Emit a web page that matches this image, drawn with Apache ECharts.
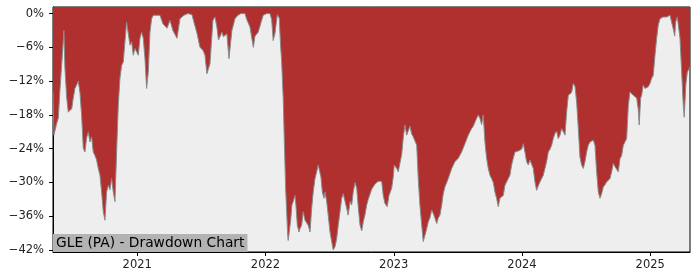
<!DOCTYPE html>
<html>
<head>
<meta charset="utf-8">
<script src="https://cdn.jsdelivr.net/npm/echarts@6/dist/echarts.min.js"></script>
<style>html,body{margin:0;padding:0;background:#fff;}#c{width:700px;height:280px;}</style>
</head>
<body>
<div id="c"></div>
<script>
const chartTitle = 'GLE (PA) - Drawdown Chart';
const yearTicks = [2021, 2022, 2023, 2024, 2025];
const pctTicks = [0, -6, -12, -18, -24, -30, -36, -42];
const years = [
2020.343,2020.350,2020.358,2020.372,2020.384,2020.397,2020.411,2020.423,2020.428,2020.436,
2020.450,2020.462,2020.475,2020.489,2020.501,2020.514,2020.527,2020.540,2020.553,2020.566,
2020.579,2020.592,2020.605,2020.618,2020.631,2020.644,2020.657,2020.670,2020.683,2020.696,
2020.709,2020.722,2020.735,2020.748,2020.761,2020.774,2020.787,2020.800,2020.813,2020.826,
2020.839,2020.852,2020.865,2020.878,2020.891,2020.904,2020.917,2020.930,2020.943,2020.956,
2020.969,2020.982,2020.995,2021.008,2021.021,2021.034,2021.047,2021.060,2021.073,2021.086,
2021.099,2021.112,2021.125,2021.138,2021.154,2021.177,2021.200,2021.232,2021.255,2021.278,
2021.310,2021.333,2021.364,2021.395,2021.427,2021.438,2021.466,2021.489,2021.512,2021.528,
2021.543,2021.567,2021.590,2021.606,2021.621,2021.633,2021.660,2021.672,2021.699,2021.715,
2021.738,2021.762,2021.785,2021.809,2021.840,2021.853,2021.879,2021.905,2021.918,2021.943,
2021.970,2021.982,2022.009,2022.035,2022.048,2022.060,2022.074,2022.092,2022.107,2022.118,
2022.126,2022.138,2022.146,2022.157,2022.165,2022.173,2022.177,2022.185,2022.196,2022.206,
2022.216,2022.230,2022.237,2022.248,2022.261,2022.269,2022.282,2022.294,2022.308,2022.321,
2022.333,2022.347,2022.360,2022.372,2022.386,2022.399,2022.411,2022.425,2022.432,2022.443,
2022.456,2022.464,2022.477,2022.489,2022.503,2022.516,2022.528,2022.542,2022.555,2022.567,
2022.581,2022.594,2022.606,2022.620,2022.633,2022.645,2022.659,2022.672,2022.684,2022.698,
2022.711,2022.723,2022.737,2022.750,2022.762,2022.775,2022.789,2022.801,2022.828,2022.853,
2022.879,2022.906,2022.918,2022.931,2022.949,2022.963,2022.984,2022.996,2023.004,2023.023,
2023.035,2023.048,2023.062,2023.074,2023.087,2023.101,2023.113,2023.126,2023.140,2023.152,
2023.165,2023.179,2023.191,2023.204,2023.218,2023.230,2023.243,2023.257,2023.269,2023.282,
2023.296,2023.308,2023.321,2023.335,2023.347,2023.360,2023.374,2023.386,2023.399,2023.425,
2023.452,2023.464,2023.477,2023.503,2023.529,2023.555,2023.581,2023.607,2023.620,2023.646,
2023.659,2023.672,2023.685,2023.698,2023.711,2023.724,2023.737,2023.750,2023.763,2023.776,
2023.789,2023.802,2023.815,2023.828,2023.841,2023.854,2023.867,2023.880,2023.893,2023.906,
2023.919,2023.932,2023.945,2023.971,2023.997,2024.010,2024.023,2024.036,2024.049,2024.062,
2024.075,2024.088,2024.101,2024.114,2024.127,2024.140,2024.153,2024.166,2024.179,2024.192,
2024.205,2024.218,2024.231,2024.244,2024.257,2024.270,2024.283,2024.296,2024.309,2024.322,
2024.335,2024.348,2024.361,2024.374,2024.387,2024.400,2024.413,2024.426,2024.439,2024.452,
2024.465,2024.478,2024.491,2024.504,2024.517,2024.530,2024.556,2024.569,2024.582,2024.595,
2024.608,2024.621,2024.634,2024.647,2024.660,2024.673,2024.686,2024.699,2024.712,2024.725,
2024.738,2024.751,2024.764,2024.777,2024.790,2024.803,2024.816,2024.829,2024.842,2024.855,
2024.867,2024.881,2024.894,2024.906,2024.914,2024.925,2024.933,2024.945,2024.959,2024.972,
2024.984,2024.998,2025.011,2025.023,2025.037,2025.050,2025.062,2025.076,2025.101,2025.128,
2025.154,2025.167,2025.179,2025.191,2025.198,2025.211,2025.224,2025.232,2025.245,2025.257,
2025.265,2025.278,2025.289,2025.310
];
const drawdown = [
-13.8,-21.6,-21.3,-19.5,-18.6,-13.6,-13.8,-5.0,-3.0,-9.7,
-15.0,-17.5,-17.7,-16.9,-15.0,-13.3,-12.7,-12.0,-14.0,-18.0,
-23.9,-24.6,-22.1,-21.0,-22.8,-21.9,-24.6,-25.2,-26.0,-27.5,
-28.7,-31.7,-35.2,-36.7,-31.7,-30.5,-31.3,-29.3,-31.7,-33.4,
-24.6,-16.3,-11.5,-9.2,-8.6,-5.0,-1.5,-1.2,-5.6,-5.0,
-7.4,-6.2,-6.8,-7.4,-4.4,-3.3,-4.4,-8.0,-13.3,-10.4,
-3.3,-0.9,-0.3,0,-0.3,-0.3,-1.8,-2.6,-1.2,-3.0,
-4.4,-0.9,-0.3,0,-0.2,-1.2,-3.5,-6.0,-6.5,-7.4,
-10.7,-8.9,-1.2,-0.6,-2.4,-4.7,-3.3,-4.1,-3.6,-8.0,
-3.0,-0.9,-0.3,0,0,-1.0,-2.4,-6.0,-4.0,-3.3,
-1.2,-0.3,0,0,-1.1,-4.8,-3.5,-0.2,-0.8,-5.8,
-8.6,-15.0,-22.0,-31.0,-35.2,-39.4,-40.3,-38.8,-36.8,-34.0,
-33.4,-32.3,-34.0,-37.6,-38.8,-38.2,-37.6,-35.2,-36.7,-36.5,
-37.6,-38.8,-34.6,-31.7,-29.3,-28.1,-26.9,-26.6,-29.0,-31.7,
-32.8,-31.7,-33.4,-35.8,-38.8,-40.5,-42.0,-41.4,-40.0,-37.6,
-35.2,-32.8,-32.0,-32.3,-34.6,-35.8,-33.4,-34.0,-31.7,-30.0,
-31.0,-34.3,-37.6,-38.6,-37.0,-35.8,-34.0,-33.0,-31.2,-30.3,
-29.8,-29.8,-32.3,-33.7,-34.3,-32.3,-31.0,-29.0,-26.9,-27.5,
-28.1,-27.8,-25.0,-22.1,-19.8,-21.6,-21.4,-20.0,-21.4,-21.9,
-21.6,-23.4,-29.3,-34.0,-37.6,-40.5,-39.4,-38.2,-37.0,-36.3,
-34.9,-35.5,-36.3,-37.3,-36.3,-35.8,-34.0,-32.0,-30.8,-29.3,
-27.5,-27.5,-26.3,-25.7,-24.6,-23.1,-21.6,-20.4,-20.0,-18.6,
-18.0,-18.6,-19.7,-18.0,-22.8,-25.7,-27.5,-28.7,-29.3,-30.0,
-31.7,-32.8,-34.3,-32.8,-32.5,-32.3,-30.5,-29.9,-29.3,-28.7,
-26.9,-25.7,-24.6,-24.4,-24.1,-23.1,-24.6,-26.3,-26.9,-26.0,
-25.9,-27.5,-29.9,-31.4,-30.6,-29.9,-29.6,-28.7,-27.5,-26.3,
-24.6,-24.1,-23.4,-22.2,-21.3,-20.9,-22.2,-21.6,-20.4,-20.2,
-21.6,-17.5,-14.5,-14.2,-14.0,-12.4,-12.9,-15.7,-20.4,-25.5,
-26.9,-27.5,-26.3,-24.6,-23.4,-22.8,-22.5,-23.4,-28.1,-31.7,
-32.8,-32.0,-30.8,-30.4,-29.9,-29.6,-29.3,-28.1,-26.6,-27.2,
-26.9,-28.1,-25.8,-25.2,-23.4,-22.8,-22.2,-16.3,-13.9,-14.2,
-14.5,-14.5,-15.0,-16.9,-19.8,-15.0,-14.5,-12.7,-13.3,-13.0,
-13.0,-12.4,-11.5,-11.0,-7.4,-4.4,-2.1,-0.9,-0.6,-0.6,
-0.3,-0.3,-2.7,-4.0,-1.5,-0.6,-0.3,-4.4,-10.4,-16.0,
-18.4,-12.5,-10.4,-9.5
];

const chart = echarts.init(document.getElementById('c'), null, {renderer: 'canvas'});
const font = 'DejaVu Sans';
const fmtPct = v => (v < 0 ? '\u2212' + Math.abs(v) : String(v)) + '%';
chart.setOption({
  animation: false,
  backgroundColor: '#ffffff',
  title: {
    text: chartTitle,
    left: 53,
    bottom: 28,
    padding: [2, 3, 2, 3],
    backgroundColor: '#b3b3b3',
    textStyle: {fontFamily: font, fontSize: 13.8, fontWeight: 'normal', color: '#000'}
  },
  grid: {
    left: 53, right: 10, top: 7, bottom: 28,
    show: true, backgroundColor: '#eeeeee', borderColor: '#000', borderWidth: 1,
    containLabel: false, outerBoundsMode: 'none'
  },
  xAxis: {
    type: 'value',
    min: years[0], max: years[years.length - 1],
    splitLine: {show: false},
    axisLine: {show: true, onZero: false, lineStyle: {color: '#000', width: 1}},
    axisTick: {show: true, length: 4, lineStyle: {color: '#000'}, customValues: yearTicks},
    axisLabel: {customValues: yearTicks, formatter: v => String(Math.round(v)), fontFamily: font, fontSize: 11.5, color: '#222', margin: 7}
  },
  yAxis: {
    type: 'value',
    min: -42.35, max: 1.17,
    splitLine: {show: false},
    axisLine: {show: true, onZero: false, lineStyle: {color: '#000', width: 1}},
    axisTick: {show: true, length: 4, lineStyle: {color: '#000'}, customValues: pctTicks},
    axisLabel: {customValues: pctTicks, formatter: fmtPct, fontFamily: font, fontSize: 11.5, color: '#222', margin: 9}
  },
  series: [{
    type: 'line',
    data: years.map((t, i) => [t, drawdown[i]]),
    showSymbol: false,
    symbol: 'none',
    sampling: 'none',
    lineStyle: {color: '#8a8a8a', width: 1},
    areaStyle: {origin: 'end', color: '#b03030', opacity: 1},
    z: 2
  }]
});
</script>
</body>
</html>
